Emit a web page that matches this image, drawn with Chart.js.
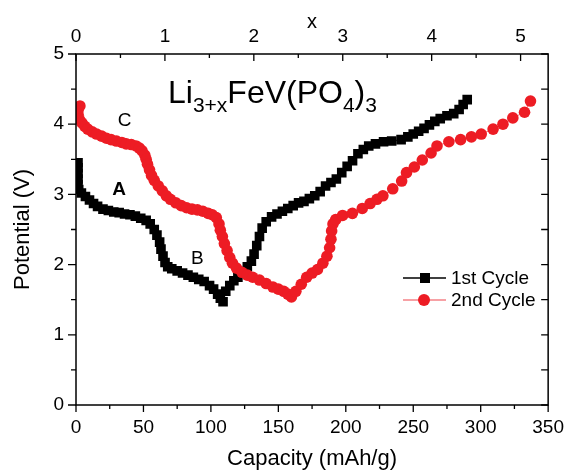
<!DOCTYPE html>
<html>
<head>
<meta charset="utf-8">
<script src="https://cdn.jsdelivr.net/npm/chart.js@4/dist/chart.umd.min.js"></script>
<style>
html,body{margin:0;padding:0;background:#fff;}
#wrap{width:575px;height:473px;position:relative;}
</style>
</head>
<body>
<div id="wrap"><canvas id="c" width="575" height="473"></canvas></div>
<script>
// ---- data ----
const capacity1 = [1.5,1.5,1.5,1.5,1.5,2,4,7,10,13,16,20,24,28,32,36,40,44,48,52,55,58,60,62,63,64.5,66,68,71,75,79,83,87,91,95,99,102,105,107,109,
  111,114,117,120,124,127,130,132,134,136,138,141,145,149,153,157,161,165,169,173,177,181,185,189,193,197,201,205,209,213,217,222,228,234,241,246,250,254,258,262,266,270,275,280,284,287,290];
const potential1 = [3.45,3.38,3.30,3.22,3.14,3.07,3.02,2.97,2.92,2.87,2.83,2.79,2.77,2.75,2.74,2.72,2.71,2.69,2.66,2.63,2.58,2.50,2.42,2.32,2.22,2.12,2.03,1.97,1.94,1.91,1.88,1.85,1.82,1.79,1.76,1.70,1.65,1.58,1.52,1.47,
  1.62,1.70,1.77,1.82,1.90,1.97,2.05,2.15,2.27,2.40,2.52,2.61,2.68,2.72,2.76,2.80,2.84,2.88,2.90,2.94,2.98,3.04,3.12,3.17,3.22,3.31,3.40,3.48,3.58,3.64,3.69,3.72,3.75,3.76,3.78,3.82,3.86,3.90,3.94,3.99,4.04,4.08,4.12,4.15,4.21,4.28,4.35];
const capacity2 = [2.9,1.5,1.5,2.5,4.4,6.5,8.7,12,15.3,19,22.6,26,30,34,37.2,41,44.5,47,49,51,52,53,54.5,56,58,61,64,67,70,74,78,82,86,90,94,98,101,104,106,107,108.5,110,112,114,116,119,123,127,131,136,141,146,150,154,157,159.7,
  163,167,171,175,179,183,186,188,189,189.5,190.5,192.5,197.6,204.9,212.2,218,223.1,227.5,234.8,241.4,245,250.8,256.7,263.2,267.6,276.4,285.1,293.1,300.4,309.2,316.5,323.8,332.5,336.9];
const potential2 = [4.26,4.20,4.14,4.07,4.02,3.97,3.93,3.89,3.86,3.83,3.80,3.78,3.76,3.74,3.72,3.71,3.69,3.66,3.62,3.56,3.50,3.43,3.35,3.27,3.20,3.12,3.05,2.98,2.93,2.88,2.84,2.81,2.79,2.78,2.76,2.73,2.71,2.67,2.58,2.49,2.40,2.30,2.20,2.10,2.02,1.95,1.89,1.85,1.82,1.78,1.73,1.68,1.65,1.62,1.58,1.54,
  1.62,1.72,1.82,1.88,1.93,2.02,2.12,2.24,2.36,2.48,2.58,2.64,2.70,2.73,2.80,2.87,2.93,2.98,3.08,3.19,3.31,3.39,3.49,3.59,3.69,3.75,3.78,3.82,3.86,3.93,4.00,4.09,4.17,4.33];
const xTicks = [0,50,100,150,200,250,300,350];
const xTopTicks = [0,1,2,3,4,5];
const yTicks = [0,1,2,3,4,5];
const seriesNames = ['1st Cycle','2nd Cycle'];
const pointLabels = [{t:'A', x:32, y:3.07, bold:true},{t:'B', x:90, y:2.08, bold:false},{t:'C', x:36, y:4.05, bold:false}];

const FONT = '"Liberation Sans", Arial, sans-serif';
const RED = '#ed1c24';

function pts(xs, ys){ return xs.map((x,i)=>({x:x, y:ys[i]})); }

const decor = {
  id:'decor',
  afterDraw(chart){
    const ctx = chart.ctx, a = chart.chartArea;
    const sx = chart.scales.x, sx2 = chart.scales.x2, sy = chart.scales.y;
    ctx.save();
    ctx.strokeStyle = '#000'; ctx.lineWidth = 1.5;
    ctx.strokeRect(a.left, a.top, a.right - a.left, a.bottom - a.top);
    ctx.lineWidth = 1.3;
    ctx.beginPath();
    for (let v = 0; v <= 350; v += 25) {
      const px = sx.getPixelForValue(v), L = (v % 50 === 0) ? 7 : 4;
      ctx.moveTo(px, a.bottom); ctx.lineTo(px, a.bottom + L);
    }
    for (let v = 0; v <= 5.3; v += 0.5) {
      const px = sx2.getPixelForValue(v), L = (Math.abs(v - Math.round(v)) < 1e-6) ? 7 : 4;
      ctx.moveTo(px, a.top); ctx.lineTo(px, a.top + L);
    }
    for (let v = 0; v <= 5; v += 0.5) {
      const py = sy.getPixelForValue(v), L = (Math.abs(v - Math.round(v)) < 1e-6) ? 8 : 5;
      ctx.moveTo(a.left, py); ctx.lineTo(a.left - L, py);
      ctx.moveTo(a.right, py); ctx.lineTo(a.right - 7, py);
    }
    ctx.stroke();

    ctx.fillStyle = '#000'; ctx.textAlign = 'center'; ctx.textBaseline = 'middle';
    pointLabels.forEach(p => {
      ctx.font = (p.bold ? 'bold ' : '') + '19px ' + FONT;
      ctx.fillText(p.t, sx.getPixelForValue(p.x), sy.getPixelForValue(p.y));
    });

    ctx.textAlign = 'left'; ctx.textBaseline = 'alphabetic';
    const parts = [['Li',0],['3+x',1],['FeV(PO',0],['4',1],[')',0],['3',1]];
    let x = 168; const base = 103;
    parts.forEach(([s,sub]) => {
      ctx.font = (sub ? '21px ' : '32px ') + FONT;
      ctx.fillText(s, x, sub ? base + 9 : base);
      x += ctx.measureText(s).width;
    });

    const leg = [{y:278, c:'#000', lc:'#000', shape:'sq'},{y:300, c:RED, lc:'rgba(237,28,36,0.55)', shape:'ci'}];
    leg.forEach((l,i) => {
      ctx.strokeStyle = l.lc; ctx.lineWidth = 1.5;
      ctx.beginPath(); ctx.moveTo(403, l.y); ctx.lineTo(446, l.y); ctx.stroke();
      ctx.fillStyle = l.c;
      if (l.shape === 'sq') ctx.fillRect(420, l.y - 5, 10, 10);
      else { ctx.beginPath(); ctx.arc(424, l.y, 6, 0, Math.PI*2); ctx.fill(); }
      ctx.fillStyle = '#000'; ctx.font = '19px ' + FONT; ctx.textBaseline = 'middle';
      ctx.fillText(seriesNames[i], 451, l.y + 1);
    });
    ctx.restore();
  }
};

new Chart(document.getElementById('c'), {
  type:'scatter',
  data:{
    datasets:[
      {label:seriesNames[0], data:pts(capacity1, potential1), showLine:true, borderColor:'#000', borderWidth:1,
       backgroundColor:'#000', pointStyle:'rect', pointRadius:6.8, pointBorderWidth:0, order:1},
      {label:seriesNames[1], data:pts(capacity2, potential2), showLine:true, borderColor:'rgba(237,28,36,0.6)', borderWidth:1,
       backgroundColor:RED, pointStyle:'circle', pointRadius:5.8, pointBorderWidth:0, order:0}
    ]
  },
  options:{
    responsive:false, animation:false, devicePixelRatio:1,
    layout:{padding:{left:0, right:19, top:0, bottom:0}},
    plugins:{legend:{display:false}, tooltip:{enabled:false}},
    scales:{
      x:{type:'linear', position:'bottom', min:0, max:350,
         afterFit(s){ s.height = 68; },
         afterBuildTicks(s){ s.ticks = xTicks.map(v=>({value:v})); },
         ticks:{color:'#000', font:{family:FONT, size:19}, padding:11, maxRotation:0},
         grid:{display:false, drawTicks:false}, border:{display:false},
         title:{display:true, text:'Capacity (mAh/g)', color:'#000', font:{family:FONT, size:22}, padding:{top:0,bottom:1}}},
      x2:{type:'linear', position:'top', min:0, max:5.31, axis:'x',
         afterFit(s){ s.height = 54; },
         afterBuildTicks(s){ s.ticks = xTopTicks.map(v=>({value:v})); },
         ticks:{color:'#000', font:{family:FONT, size:19}, padding:6, maxRotation:0},
         grid:{display:false, drawTicks:false}, border:{display:false},
         title:{display:true, text:'x', color:'#000', font:{family:FONT, size:20}, padding:{top:10,bottom:0}}},
      y:{type:'linear', position:'left', min:0, max:5,
         afterFit(s){ s.width = 76; },
         afterBuildTicks(s){ s.ticks = yTicks.map(v=>({value:v})); },
         ticks:{color:'#000', font:{family:FONT, size:19}, padding:12},
         grid:{display:false, drawTicks:false}, border:{display:false},
         title:{display:true, text:'Potential (V)', color:'#000', font:{family:FONT, size:22}, padding:{top:10,bottom:0}}}
    }
  },
  plugins:[decor]
});
</script>
</body>
</html>
